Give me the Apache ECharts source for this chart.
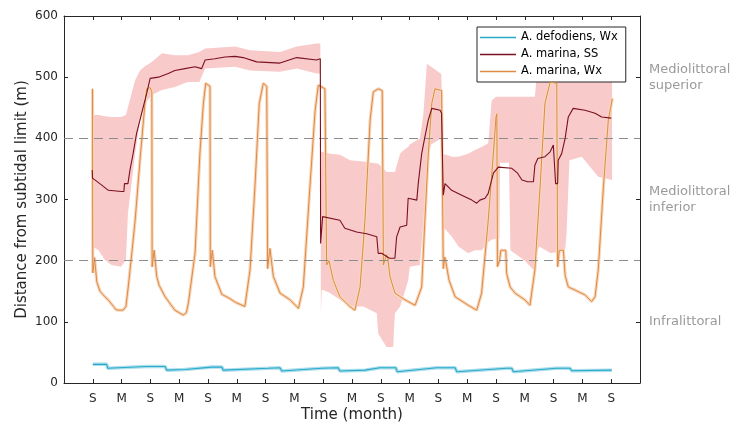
<!DOCTYPE html>
<html><head><meta charset="utf-8">
<script src="https://cdn.jsdelivr.net/npm/echarts@6/dist/echarts.min.js"></script>
<style>html,body{margin:0;padding:0;background:#fff}#c{width:736px;height:424px}</style>
</head><body><div id="c"></div>
<script>
// x unit: half-years (ticks alternate September / March)
const monthTicks = ['S','M','S','M','S','M','S','M','S','M','S','M','S','M','S','M','S','M','S'];
const zoneLabelValues = [100, 300, 500];
const zoneLabels = ['Infralittoral', 'Mediolittoral\ninferior', 'Mediolittoral\nsuperior'];
const zoneBounds = [200, 400];
const legendNames = ['A. defodiens, Wx', 'A. marina, SS', 'A. marina, Wx'];

const defodiensWx = [
  [1.0,30.5],[1.48,30.5],[1.52,24],[2.87,27],[3.51,27],[3.57,21],[4.2,22],[5.13,26],[5.48,26],[5.53,21],
  [7.09,24],[7.5,25],[7.56,19.6],[8.95,24],[9.52,25],[9.58,19.6],[10.45,21],[10.97,25],[11.52,25],[11.57,18.5],
  [12.94,25],[13.58,25],[13.64,18.5],[15.37,24],[15.55,24],[15.6,18.5],[17.1,24],[17.57,24],[17.63,20],[19.02,21]
];

const marinaSS = [
  [0.98,348],[0.99,335],[1.05,332],[1.3,324],[1.54,315],[2.0,313],[2.08,313],[2.1,326],[2.22,326],[2.29,348],
  [2.4,375],[2.52,408],[2.64,430],[2.75,451],[2.87,473],[2.99,498],[3.28,500],[3.62,506],[3.85,511],[4.2,514],
  [4.55,517],[4.78,514],[4.9,528],[5.24,530],[5.59,533],[5.94,534],[6.22,532],[6.69,525],[7.5,523],[8.08,532],
  [8.77,528],[8.9,530],[8.91,228],[8.97,228],[8.98,272],[9.58,266],[9.75,253],[10.16,247],[10.51,244],[10.86,239],
  [10.91,212],[11.03,212],[11.3,204],[11.49,204],[11.55,239],[11.67,255],[11.9,258],[11.95,302],[12.25,299],[12.3,326],
  [12.42,375],[12.53,402],[12.65,430],[12.77,449],[13.06,446],[13.11,441],[13.17,307],[13.23,326],[13.46,315],[13.81,307],
  [14.16,299],[14.33,294],[14.44,299],[14.62,302],[14.73,310],[14.91,343],[15.08,353],[15.55,351],[15.75,343],[15.9,332],
  [16.1,329],[16.3,329],[16.35,356],[16.45,367],[16.7,370],[16.88,378],[16.99,389],[17.05,389],[17.07,326],[17.14,326],
  [17.16,364],[17.28,375],[17.4,400],[17.51,435],[17.68,449],[18.09,446],[18.44,441],[18.67,435],[19.0,433]
];

const marinaWx = [
  [0.99,481],[1.0,180],[1.04,178],[1.06,205],[1.12,208],[1.14,165],[1.25,150],[1.42,141],[1.55,135],[1.72,125],
  [1.8,120],[1.9,119],[2.05,119],[2.15,125],[2.23,157],[2.35,210],[2.47,266],[2.64,365],[2.81,457],[2.87,481],
  [2.99,483],[3.05,476],[3.06,190],[3.1,188],[3.13,217],[3.17,215],[3.22,174],[3.3,160],[3.51,141],[3.85,119],
  [4.14,111],[4.25,115],[4.32,131],[4.55,212],[4.72,376],[4.84,457],[4.92,490],[5.07,485],[5.08,190],[5.12,188],
  [5.15,217],[5.2,215],[5.24,174],[5.48,145],[5.76,138],[5.95,132],[6.28,125],[6.46,185],[6.63,321],[6.78,457],
  [6.92,490],[7.04,485],[7.07,187],[7.1,187],[7.15,220],[7.19,218],[7.27,174],[7.5,147],[7.85,136],[8.14,122],
  [8.31,157],[8.54,321],[8.72,446],[8.83,487],[9.06,481],[9.12,193],[9.2,200],[9.25,200],[9.35,168],[9.58,141],
  [9.93,125],[10.1,119],[10.28,157],[10.45,266],[10.63,430],[10.74,476],[10.91,481],[11.05,478],[11.09,193],[11.14,195],
  [11.2,210],[11.24,205],[11.32,174],[11.49,147],[11.84,136],[12.19,127],[12.25,125],[12.42,157],[12.53,266],[12.65,376],
  [12.77,457],[12.88,481],[13.11,478],[13.17,187],[13.22,206],[13.25,200],[13.37,168],[13.58,141],[14.04,127],[14.33,119],
  [14.5,147],[14.73,266],[14.91,376],[15.0,435],[15.03,440],[15.05,190],[15.12,200],[15.17,217],[15.34,217],[15.37,179],
  [15.49,157],[15.66,147],[16.0,136],[16.18,127],[16.35,185],[16.53,321],[16.7,457],[16.88,492],[17.11,490],[17.14,190],
  [17.2,217],[17.34,217],[17.4,176],[17.51,157],[17.74,152],[18.09,144],[18.32,133],[18.44,141],[18.55,185],[18.73,321],
  [18.9,430],[19.04,465]
];

// confidence band of A. marina, SS
const ssBandX  = [0.98,1.2,1.42,1.65,1.98,2.15,2.22,2.47,2.64,2.81,3.05,3.4,3.85,4.3,4.7,4.9,5.94,6.46,7.5,8.08,8.77,8.9,
  8.92,8.95,9.0,9.24,9.58,9.93,10.39,10.86,10.91,11.2,11.43,11.49,11.67,11.78,11.95,12.01,12.36,12.48,12.6,12.75,13.1,
  13.17,13.47,13.7,14.03,14.27,14.5,14.73,14.85,15.0,15.12,15.14,15.45,15.5,16.0,16.3,16.35,16.4,16.5,16.9,17.4,17.45,17.55,17.98,18.55,19.03];
const ssBandLo = [223,217,201,193,190,201,277,375,430,457,471,479,484,492,492,514,517,511,509,514,506,506,
  110,152,152,147,136,125,125,114,81,59,59,114,125,141,168,190,193,266,360,390,400,
  255,239,223,212,217,217,230,234,236,236,360,360,217,200,185,190,210,223,212,217,245,364,370,337,332];
const ssBandHi = [438,438,436,435,435,438,451,495,511,518,525,539,536,536,541,547,550,544,541,550,555,555,
  378,378,378,375,373,364,362,359,359,345,345,345,375,380,386,390,400,440,522,517,505,
  375,370,370,375,381,386,392,462,468,468,468,468,468,468,468,468,495,495,495,495,495,495,495,495,495];

const FONT = 'DejaVu Sans';
const AXIS_C = '#262626';
const chart = echarts.init(document.getElementById('c'), null, {renderer:'canvas'});

function xAxisBase(pos){
  return {
    type:'value', min:0, max:20, interval:1, position:pos,
    axisLine:{show:true, onZero:false, lineStyle:{color:AXIS_C, width:1}},
    axisTick:{show:true, inside:true, length:4, lineStyle:{color:AXIS_C}},
    splitLine:{show:false}
  };
}

const xBottom = xAxisBase('bottom');
xBottom.name = 'Time (month)';
xBottom.nameLocation = 'middle';
xBottom.nameGap = 25;
xBottom.nameMoveOverlap = false;
xBottom.nameTextStyle = {fontFamily:FONT, fontSize:15, color:AXIS_C};
xBottom.axisLabel = {show:true, margin:10, fontFamily:FONT, fontSize:12, color:AXIS_C,
  formatter:function(v){ return (v>=1 && v<=monthTicks.length) ? monthTicks[v-1] : ''; }};
const xTop = xAxisBase('top');
xTop.axisLabel = {show:false};

chart.setOption({
  animation:false,
  backgroundColor:'#fff',
  textStyle:{fontFamily:FONT},
  grid:{left:64, right:96, top:16, bottom:41, containLabel:false, outerBoundsMode:'none'},
  legend:{
    data:legendNames, orient:'vertical', left:477, top:27,
    icon:'rect', itemWidth:36, itemHeight:1.3, itemGap:2,
    padding:[3,8,3,3],
    borderColor:AXIS_C, borderWidth:1, backgroundColor:'#fff',
    textStyle:{fontFamily:FONT, fontSize:11.5, color:'#000', lineHeight:15}
  },
  xAxis:[xBottom, xTop],
  yAxis:[
    {type:'value', min:0, max:600, interval:100, position:'left',
     name:'Distance from subtidal limit (m)', nameLocation:'middle', nameGap:34, nameMoveOverlap:false,
     nameTextStyle:{fontFamily:FONT, fontSize:15, color:AXIS_C},
     axisLine:{show:true, onZero:false, lineStyle:{color:AXIS_C}},
     axisTick:{show:true, inside:true, length:4, lineStyle:{color:AXIS_C}},
     axisLabel:{margin:6, fontFamily:FONT, fontSize:12, color:AXIS_C},
     splitLine:{show:false}},
    {type:'value', min:0, max:600, position:'right',
     axisLine:{show:true, onZero:false, lineStyle:{color:AXIS_C}},
     axisTick:{show:true, inside:true, length:4, lineStyle:{color:AXIS_C}, customValues:zoneLabelValues},
     axisLabel:{show:true, margin:9, fontFamily:FONT, fontSize:13, color:'#9a9a9a', lineHeight:16,
       customValues:zoneLabelValues,
       formatter:function(v){ const i = zoneLabelValues.indexOf(v); return i>=0 ? zoneLabels[i] : ''; }},
     splitLine:{show:false}}
  ],
  series:[
    {type:'custom', name:'ssBand', xAxisIndex:0, yAxisIndex:0, silent:true, z:1, clip:true,
     data:[[ssBandX[0], ssBandLo[0]]],
     renderItem:function(params, api){
       const pts = [];
       for (let i=0;i<ssBandX.length;i++) pts.push(api.coord([ssBandX[i], ssBandHi[i]]));
       for (let i=ssBandX.length-1;i>=0;i--) pts.push(api.coord([ssBandX[i], ssBandLo[i]]));
       return {type:'polygon', shape:{points:pts}, style:{fill:'#f9caca'}};
     }},
    {type:'line', name:'bounds', data:[], z:2, silent:true,
     markLine:{silent:true, symbol:['none','none'], label:{show:false},
       lineStyle:{color:'#8c8c8c', type:[9,6], width:1},
       data:zoneBounds.map(function(b){ return {yAxis:b}; })}},
    {type:'line', name:'wxHalo', data:marinaWx, symbol:'none', z:3, silent:true,
     lineStyle:{color:'#f8d6ba', width:3.2}},
    {type:'line', name:legendNames[2], data:marinaWx, symbol:'none', z:4,
     color:'#dd8a45', lineStyle:{color:'#dd8a45', width:1}},
    {type:'line', name:legendNames[1], data:marinaSS, symbol:'none', z:5,
     color:'#7a1020', lineStyle:{color:'#7a1020', width:1.1}},
    {type:'line', name:'defHalo', data:defodiensWx, symbol:'none', z:6, silent:true,
     lineStyle:{color:'#aadeeb', width:3.5}},
    {type:'line', name:legendNames[0], data:defodiensWx, symbol:'none', z:7,
     color:'#2aa9cc', lineStyle:{color:'#2aa9cc', width:1.1}}
  ]
});
</script></body></html>
